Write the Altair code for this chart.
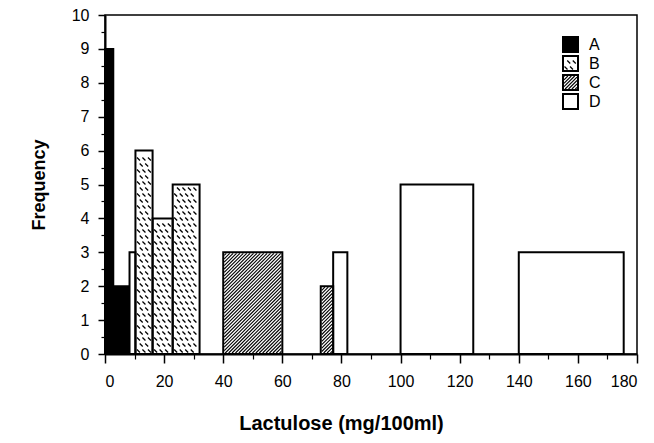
import altair as alt
import pandas as pd

# ---------------- data ----------------
groups = ["A", "A", "B", "B", "B", "B", "C", "C", "D", "D", "D"]
bin_left = [0, 2.8, 8.3, 10.3, 16.1, 22.9, 40, 73, 77.2, 100, 140]
bin_right = [2.8, 7.8, 10.3, 16.1, 22.9, 32, 60, 77.2, 82, 124.6, 175.5]
frequency = [9, 2, 3, 6, 4, 5, 3, 2, 3, 5, 3]

legend_groups = ["A", "B", "C", "D"]
x_ticks = list(range(0, 181, 20))
x_minor = list(range(10, 180, 20))
y_ticks = list(range(0, 11))
y_minor = [i + 0.5 for i in range(10)]

# ---------------- layout ----------------
W, H = 532, 339
XMAX, YMAX = 180, 10
sx = W / XMAX
sy = H / YMAX
FONT = "Liberation Sans"

# bars
bars = pd.DataFrame({"group": groups, "x0": bin_left, "x1": bin_right,
                     "y0": [0] * len(groups), "y1": frequency})

# legend boxes (placed in plot pixels, converted to data units)
leg_rows = []
for i, g in enumerate(legend_groups):
    top = 22 + 19 * i
    leg_rows.append({"group": g, "x0": 458 / sx, "x1": 473 / sx,
                     "y0": (H - top - 15) / sy, "y1": (H - top) / sy,
                     "tx": 484 / sx, "ty": (H - top - 7.5) / sy})
legend = pd.DataFrame(leg_rows)

rects = pd.concat([bars, legend[["group", "x0", "x1", "y0", "y1"]]], ignore_index=True)


def hatch(x0, x1, y0, y1, step=3.4, inset=1.0):
    px0, px1, py0, py1 = x0 * sx + inset, x1 * sx - inset, y0 * sy + inset, y1 * sy - inset
    segs = []
    c = py0 - px1 + step / 2
    while c < py1 - px0:
        a = max(px0, py0 - c)
        b = min(px1, py1 - c)
        if b - a > 0.4:
            segs.append({"hx0": a / sx, "hy0": (a + c) / sy, "hx1": b / sx, "hy1": (b + c) / sy})
        c += step
    return segs


def dashes(x0, x1, y0, y1, dx=5.5, dy=6.0, inset=3.0):
    px0, px1, py0, py1 = x0 * sx + inset, x1 * sx - inset, y0 * sy + inset, y1 * sy - inset
    pts = []
    row = 0
    py = py0
    while py <= py1 + 0.01:
        px = px0 + (dx / 2 if row % 2 else 0)
        while px <= px1 + 0.01:
            pts.append({"dx": px / sx, "dy": py / sy})
            px += dx
        py += dy
        row += 1
    return pts


hatch_rows, dash_rows = [], []
for _, r in rects.iterrows():
    if r["group"] == "C":
        hatch_rows += hatch(r["x0"], r["x1"], r["y0"], r["y1"])
    elif r["group"] == "B":
        dash_rows += dashes(r["x0"], r["x1"], r["y0"], r["y1"])
hatch_df = pd.DataFrame(hatch_rows)
dash_df = pd.DataFrame(dash_rows)

xscale = alt.Scale(domain=[0, XMAX], nice=False, zero=False)
yscale = alt.Scale(domain=[0, YMAX], nice=False, zero=False)

fill_scale = alt.Scale(domain=legend_groups, range=["black", "white", "white", "white"])

x_major_axis = alt.Axis(values=x_ticks, orient="bottom", tickSize=9, tickWidth=1.5,
                        labelFontSize=16, labelPadding=10, labelFont=FONT, labelColor="black",
                        domainWidth=2, domainColor="black", tickColor="black", grid=False,
                        title="Lactulose (mg/100ml)", titleFont=FONT, titleFontSize=20,
                        titleFontWeight="bold", titleColor="black", titleX=236, titleY=75,
                        titleAlign="center", titleBaseline="alphabetic")
y_major_axis = alt.Axis(values=y_ticks, orient="left", tickSize=7, tickWidth=1.5,
                        labelFontSize=16, labelPadding=9, labelFont=FONT, labelColor="black",
                        domainWidth=2, domainColor="black", tickColor="black", grid=False,
                        title="Frequency", titleFont=FONT, titleFontSize=18,
                        titleFontWeight="bold", titleColor="black", titleX=-66, titleY=H / 2,
                        titleAngle=270, titleAlign="center", titleBaseline="middle")
x_minor_axis = alt.Axis(values=x_minor, orient="bottom", tickSize=5, tickWidth=1.2,
                        tickColor="black", labels=False, domain=False, grid=False, title=None)
y_minor_axis = alt.Axis(values=y_minor, orient="left", tickSize=4, tickWidth=1.2,
                        tickColor="black", labels=False, domain=False, grid=False, title=None)

fills = alt.Chart(rects).mark_rect(strokeWidth=0).encode(
    x=alt.X("x0:Q", scale=xscale, axis=x_major_axis),
    x2="x1:Q",
    y=alt.Y("y0:Q", scale=yscale, axis=y_major_axis),
    y2="y1:Q",
    fill=alt.Fill("group:N", scale=fill_scale, legend=None),
)

hatch_layer = alt.Chart(hatch_df).mark_rule(color="black", strokeWidth=1.1).encode(
    x=alt.X("hx0:Q", scale=xscale, axis=x_minor_axis),
    x2="hx1:Q",
    y=alt.Y("hy0:Q", scale=yscale, axis=y_minor_axis),
    y2="hy1:Q",
)

dash_layer = alt.Chart(dash_df).mark_point(shape="M-1,-1L1,1", filled=False, size=9,
                                           strokeWidth=1.3, color="black", opacity=1).encode(
    x=alt.X("dx:Q", scale=xscale, axis=None),
    y=alt.Y("dy:Q", scale=yscale, axis=None),
)

outlines = alt.Chart(rects).mark_rect(fillOpacity=0, stroke="black", strokeWidth=2).encode(
    x=alt.X("x0:Q", scale=xscale, axis=None),
    x2="x1:Q",
    y=alt.Y("y0:Q", scale=yscale, axis=None),
    y2="y1:Q",
)

labels = alt.Chart(legend).mark_text(align="left", baseline="middle", font=FONT,
                                     fontSize=16, color="black").encode(
    x=alt.X("tx:Q", scale=xscale, axis=None),
    y=alt.Y("ty:Q", scale=yscale, axis=None),
    text="group:N",
)

chart = alt.layer(fills, hatch_layer, dash_layer, outlines, labels).resolve_axis(
    x="independent", y="independent"
).properties(
    width=W, height=H,
    autosize=alt.AutoSizeParams(type="none"),
    padding={"left": 97, "top": 7, "right": 8, "bottom": 80},
    background="white",
).configure_view(stroke="black", strokeWidth=1.5)

chart.save("out.html", embed_options={"renderer": "svg", "actions": False})
